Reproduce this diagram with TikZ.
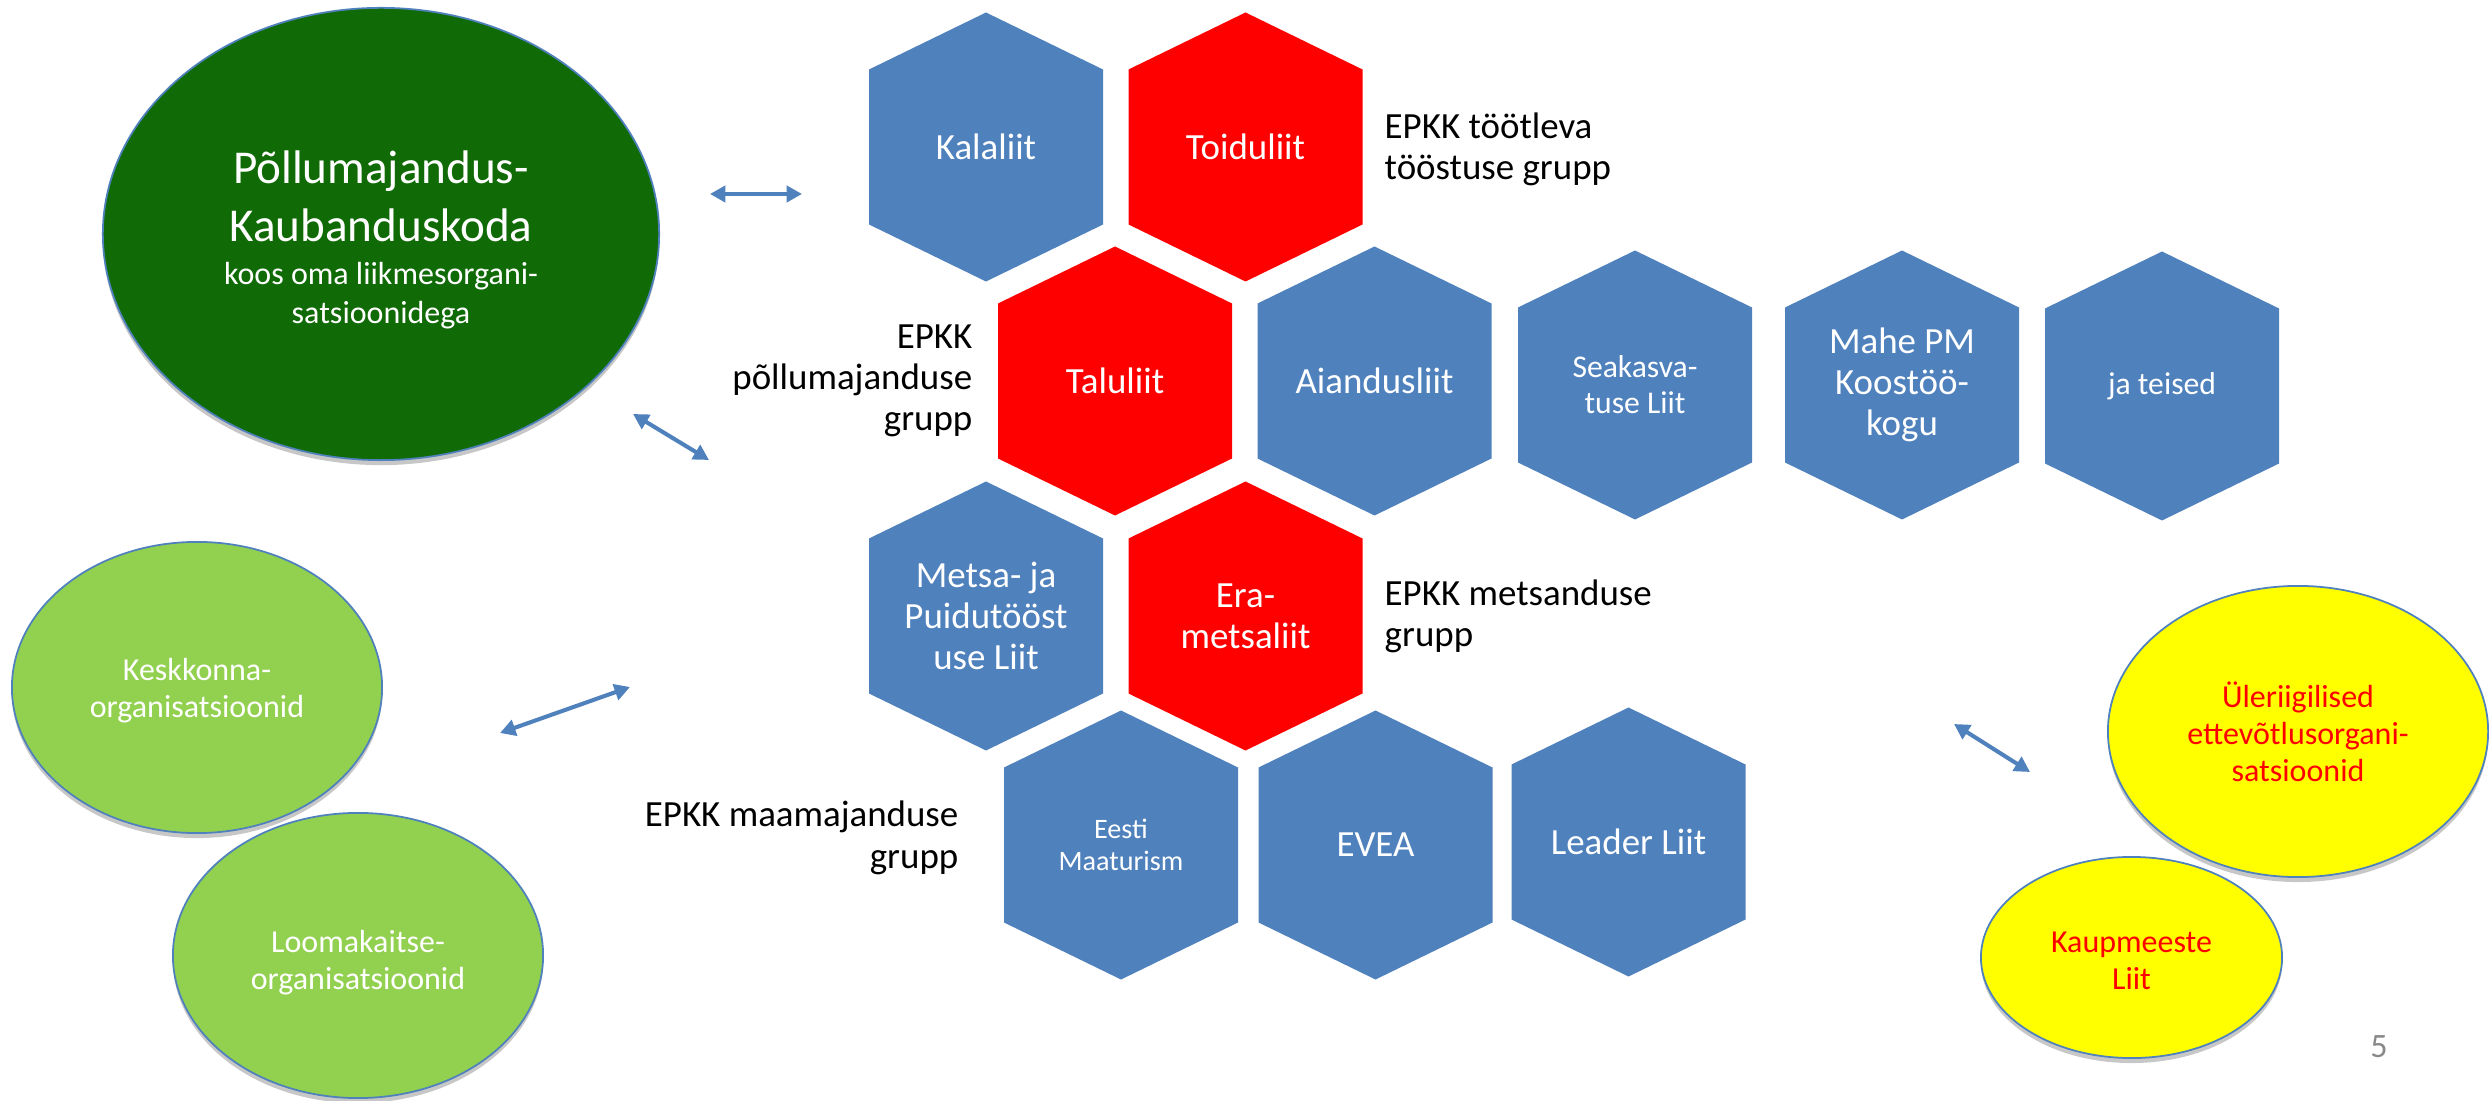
\documentclass[tikz,border=0pt]{standalone}
\usepackage{fontspec}
\setmainfont{Carlito}
\usetikzlibrary{shapes.geometric,arrows.meta,shadows}
\definecolor{hexblue}{RGB}{79,129,189}
\definecolor{hexred}{RGB}{255,0,0}
\definecolor{darkgreen}{RGB}{16,106,5}
\definecolor{lightgreen}{RGB}{146,208,80}
\definecolor{ellyellow}{RGB}{255,255,0}
\definecolor{pagegray}{RGB}{137,137,137}
\tikzset{
  hexlabel/.style={text=white, align=center, inner sep=0pt, font=\fontsize{10.5pt}{11.7pt}\selectfont},
  smallhex/.style={font=\fontsize{9pt}{10.2pt}\selectfont},
  tinyhex/.style={font=\fontsize{8pt}{9pt}\selectfont},
  ellnode/.style={ellipse, draw=hexblue, line width=0.5pt, inner sep=0pt, align=center,
     drop shadow={opacity=0.22, shadow xshift=0pt, shadow yshift=-0.05cm, fill=black}},
  elltext/.style={font=\fontsize{9.1pt}{10.5pt}\selectfont},
  grouplabel/.style={inner sep=0pt, text=black, font=\fontsize{10.5pt}{11.7pt}\selectfont},
  linkarrow/.style={draw=hexblue, line width=1.15pt, {Triangle[length=4.4pt,width=4.6pt]}-{Triangle[length=4.4pt,width=4.6pt]}}
}
\newcommand\hexcell[6]{%
  \fill[#4] (#2,#3) ++(0,-134.5) -- ++(117,57) -- ++(0,155) -- ++(-117,57) -- ++(-117,-57) -- ++(0,-155) -- cycle;
  \node[hexlabel,#5] (#1) at (#2,#3) {#6};%
}
\begin{document}
\begin{tikzpicture}[x=0.01cm,y=-0.01cm]
\useasboundingbox (0,0) rectangle (2489,1101);
\fill[white] (0,0) rectangle (2489,1101);

% ellipses
\node[ellnode, fill=darkgreen, text=white, minimum width=5.56cm, minimum height=4.52cm,
      text height=1.88cm, text depth=0.10cm,
      font=\fontsize{13.4pt}{16.5pt}\selectfont] (pk) at (381,234)
  {\fontsize{13.4pt}{16.5pt}\selectfont Põllumajandus-\\
   \fontsize{13.4pt}{16.5pt}\selectfont Kaubanduskoda\\[-4.5pt]
   \fontsize{9.1pt}{11pt}\selectfont koos oma liikmesorgani-\\[-5.4pt]
   \fontsize{9.1pt}{11pt}\selectfont satsioonidega};
\node[ellnode, fill=lightgreen, text=white, elltext, minimum width=3.70cm, minimum height=2.91cm,
      text height=0.67cm, text depth=0.08cm] (kesk) at (197,687.5)
  {Keskkonna-\\organisatsioonid};
\node[ellnode, fill=lightgreen, text=white, elltext, minimum width=3.70cm, minimum height=2.85cm,
      text height=0.75cm, text depth=0.08cm] (looma) at (358,955.5)
  {Loomakaitse-\\organisatsioonid};
\node[ellnode, fill=ellyellow, text=hexred, elltext, minimum width=3.80cm, minimum height=2.91cm,
      text height=1.07cm, text depth=0.08cm] (uler) at (2298,731.5)
  {Üleriigilised\\ettevõtlusorgani-\\satsioonid};
\node[ellnode, fill=ellyellow, text=hexred, elltext, minimum width=3.01cm, minimum height=2.01cm,
      text height=0.71cm, text depth=0.08cm] (kaup) at (2131.5,957.5)
  {Kaupmeeste\\Liit};

% hexagons
\hexcell{kala}{986}{147}{hexblue}{}{Kalaliit}
\hexcell{toidu}{1245.5}{147}{hexred}{}{Toiduliit}
\hexcell{talu}{1115}{381}{hexred}{}{Taluliit}
\hexcell{aiandus}{1374.5}{381}{hexblue}{}{Aiandusliit}
\hexcell{seakas}{1635}{385}{hexblue}{smallhex}{Seakasva-\\tuse Liit}
\hexcell{mahe}{1902}{385}{hexblue}{}{Mahe PM\\Koostöö-\\kogu}
\hexcell{teised}{2162}{386}{hexblue}{smallhex}{ja teised}
\hexcell{metsa}{986}{616}{hexblue}{}{Metsa- ja\\Puidutööst\\use Liit}
\hexcell{era}{1245.5}{616}{hexred}{}{Era-\\metsaliit}
\hexcell{eesti}{1121}{845}{hexblue}{tinyhex}{Eesti\\Maaturism}
\hexcell{evea}{1375.5}{845}{hexblue}{}{EVEA}
\hexcell{leader}{1628.5}{842}{hexblue}{}{Leader Liit}

% group labels (anchored at the baseline of their last line)
\node[grouplabel, align=left, anchor=base west] (gtoot) at (1384,180) {EPKK töötleva\\tööstuse grupp};
\node[grouplabel, align=right, anchor=base east] (gpoll) at (973,431) {EPKK\\põllumajanduse\\grupp};
\node[grouplabel, align=left, anchor=base west] (gmets) at (1384,647) {EPKK metsanduse\\grupp};
\node[grouplabel, align=right, anchor=base east] (gmaa) at (959,868) {EPKK maamajanduse\\grupp};

% page number
\node[inner sep=0pt, text=pagegray, font=\fontsize{9.7pt}{11pt}\selectfont] (page) at (2379,1047) {5};

% arrows
\coordinate (a1s) at (710,194);  \coordinate (a1e) at (802,194);
\coordinate (a2s) at (633,414);  \coordinate (a2e) at (709,460);
\coordinate (a3s) at (500,733);  \coordinate (a3e) at (630,687);
\coordinate (a4s) at (1954,724); \coordinate (a4e) at (2030,772);
\draw[linkarrow] (a1s) -- (a1e);
\draw[linkarrow] (a2s) -- (a2e);
\draw[linkarrow] (a3s) -- (a3e);
\draw[linkarrow] (a4s) -- (a4e);
\end{tikzpicture}
\end{document}
